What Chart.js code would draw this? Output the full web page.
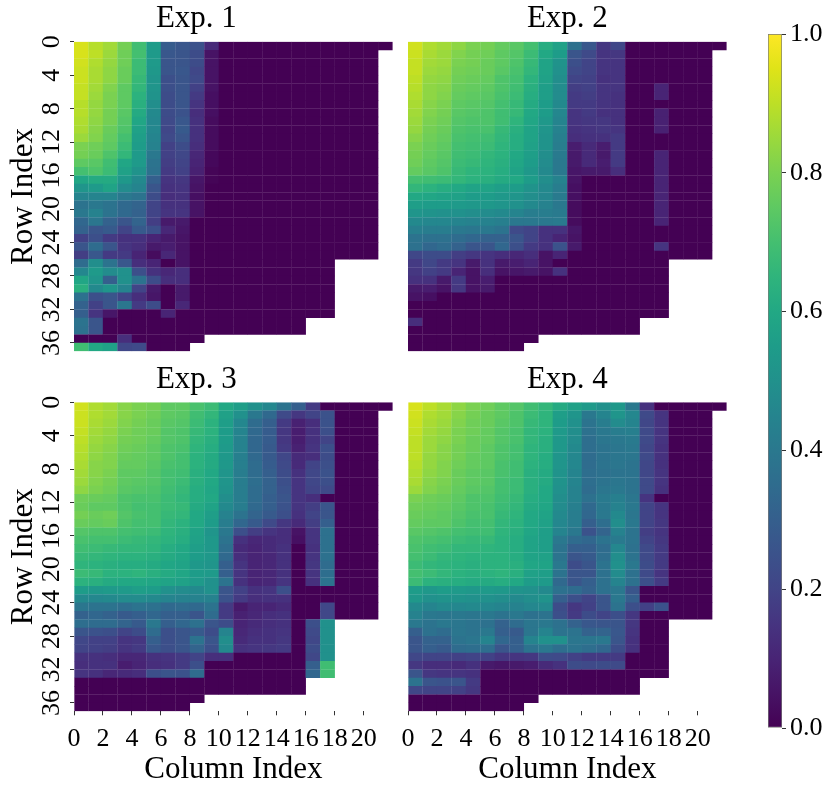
<!DOCTYPE html>
<html>
<head>
<meta charset="utf-8">
<script src="https://cdn.jsdelivr.net/npm/chart.js@4.4.3/dist/chart.umd.min.js"></script>
<style>
  body { margin: 0; background: #fff; }
  #wrap { position: relative; width: 831px; height: 795px; overflow: hidden; }
  canvas { position: absolute; }
</style>
</head>
<body>
<div id="wrap">
  <canvas id="p1" width="400" height="360" style="left:0;top:0"></canvas>
  <canvas id="p2" width="334" height="360" style="left:400px;top:0"></canvas>
  <canvas id="p3" width="400" height="434" style="left:0;top:361px"></canvas>
  <canvas id="p4" width="334" height="434" style="left:400px;top:361px"></canvas>
  <canvas id="cb" width="97" height="795" style="left:734px;top:0"></canvas>
</div>
<script>
// heatmap values in percent, one array per row (row length = visible columns)
const colTicks = [0, 2, 4, 6, 8, 10, 12, 14, 16, 18, 20];
const rowTicks = [0, 4, 8, 12, 16, 20, 24, 28, 32, 36];
const cbTicks = [0, 0.2, 0.4, 0.6, 0.8, 1.0];
const titles = ['Exp. 1', 'Exp. 2', 'Exp. 3', 'Exp. 4'];

const exp1 = [
  [94,89,86,79,69,55,29,27,25,12,0,0,0,0,0,0,0,0,0,0,0,0],
  [94,90,85,78,70,54,27,26,23,5,0,0,0,0,0,0,0,0,0,0,0],
  [93,88,84,78,68,54,26,26,23,5,0,0,0,0,0,0,0,0,0,0,0],
  [92,87,83,77,68,53,26,27,21,5,0,0,0,0,0,0,0,0,0,0,0],
  [92,87,83,77,67,52,24,26,22,5,0,0,0,0,0,0,0,0,0,0,0],
  [91,86,81,75,66,52,24,26,19,5,0,0,0,0,0,0,0,0,0,0,0],
  [91,85,80,75,64,51,23,26,17,4,0,0,0,0,0,0,0,0,0,0,0],
  [89,84,80,75,63,49,23,26,15,4,0,0,0,0,0,0,0,0,0,0,0],
  [89,84,79,74,61,47,23,25,13,4,0,0,0,0,0,0,0,0,0,0,0],
  [88,83,79,73,59,46,22,27,14,3,0,0,0,0,0,0,0,0,0,0,0],
  [87,82,77,72,57,46,21,28,14,3,0,0,0,0,0,0,0,0,0,0,0],
  [85,81,76,70,56,45,22,26,14,3,0,0,0,0,0,0,0,0,0,0,0],
  [80,78,75,68,55,44,19,23,13,3,0,0,0,0,0,0,0,0,0,0,0],
  [79,77,72,66,54,40,19,21,11,2,0,0,0,0,0,0,0,0,0,0,0],
  [75,74,69,59,54,38,18,20,10,2,0,0,0,0,0,0,0,0,0,0,0],
  [70,72,68,57,51,37,17,19,9,1,0,0,0,0,0,0,0,0,0,0,0],
  [59,61,61,53,47,30,15,16,6,1,0,0,0,0,0,0,0,0,0,0,0],
  [52,54,58,48,45,26,14,15,5,0,0,0,0,0,0,0,0,0,0,0,0],
  [45,45,45,40,38,23,13,14,4,0,0,0,0,0,0,0,0,0,0,0,0],
  [38,40,38,34,32,20,14,14,5,0,0,0,0,0,0,0,0,0,0,0,0],
  [40,44,38,34,31,20,15,15,5,0,0,0,0,0,0,0,0,0,0,0,0],
  [33,39,31,26,32,18,7,7,0,0,0,0,0,0,0,0,0,0,0,0,0],
  [31,26,28,20,28,24,11,6,0,0,0,0,0,0,0,0,0,0,0,0,0],
  [19,24,17,14,14,10,7,5,0,0,0,0,0,0,0,0,0,0,0,0,0],
  [26,35,26,15,13,7,8,5,0,0,0,0,0,0,0,0,0,0,0,0,0],
  [18,27,17,17,10,3,11,5,0,0,0,0,0,0,0,0,0,0,0,0,0],
  [35,49,38,27,13,10,0,5,0,0,0,0,0,0,0,0,0,0],
  [46,54,48,50,24,14,11,13,0,0,0,0,0,0,0,0,0,0],
  [59,52,30,50,38,23,13,13,0,0,0,0,0,0,0,0,0,0],
  [63,47,52,45,20,7,0,7,0,0,0,0,0,0,0,0,0,0],
  [37,24,26,20,13,6,0,7,0,0,0,0,0,0,0,0,0,0],
  [31,19,26,39,17,23,0,11,0,0,0,0,0,0,0,0,0,0],
  [30,15,6,0,0,0,10,0,0,0,0,0,0,0,0,0,0,0],
  [38,26,0,0,0,0,0,0,0,0,0,0,0,0,0,0],
  [37,26,0,0,0,0,0,0,0,0,0,0,0,0,0,0],
  [0,0,0,13,0,0,0,0,0],
  [69,60,57,21,22,0,0,0]
];

const exp2 = [
  [93,88,86,83,80,79,76,74,70,62,57,37,27,16,21,0,0,0,0,0,0,0],
  [92,87,85,81,79,78,75,73,68,60,55,26,22,15,16,0,0,0,0,0,0],
  [91,86,85,80,79,77,75,72,67,58,51,24,20,15,15,0,0,0,0,0,0],
  [91,85,84,79,78,77,74,71,66,58,50,22,20,15,15,0,0,0,0,0,0],
  [90,84,83,78,77,76,72,70,64,57,49,20,19,14,15,0,0,0,0,0,0],
  [89,83,82,77,76,75,72,69,63,56,48,18,19,15,15,0,0,10,0,0,0],
  [88,83,81,76,75,74,71,68,62,56,48,17,18,15,14,0,0,10,0,0,0],
  [87,82,80,75,74,73,70,67,61,55,47,17,17,15,14,0,0,0,0,0,0],
  [86,81,79,74,73,72,69,67,60,55,46,15,17,14,14,0,0,9,0,0,0],
  [85,80,78,73,72,72,69,65,59,53,45,15,16,16,14,0,0,9,0,0,0],
  [84,79,77,72,71,71,67,63,58,52,44,14,15,16,15,0,0,9,0,0,0],
  [82,78,76,71,70,69,66,62,58,51,43,13,14,14,17,0,0,0,0,0,0],
  [80,77,75,70,69,68,65,62,57,51,42,8,12,8,17,0,0,0,0,0,0],
  [79,76,74,69,68,66,64,60,56,49,41,7,12,7,17,0,0,10,0,0,0],
  [78,75,73,68,67,65,63,59,55,48,40,7,12,8,17,0,0,10,0,0,0],
  [76,74,72,67,65,64,62,58,53,47,40,6,7,7,13,0,0,10,0,0,0],
  [70,69,68,66,64,63,61,60,55,49,44,5,0,0,0,0,0,10,0,0,0],
  [66,64,62,60,58,58,56,55,51,47,42,4,0,0,0,0,0,10,0,0,0],
  [60,59,58,57,55,55,53,52,49,46,41,4,0,0,0,0,0,10,0,0,0],
  [56,55,55,54,53,53,52,50,47,44,40,3,0,0,0,0,0,10,0,0,0],
  [52,51,50,50,49,48,47,45,42,42,41,3,0,0,0,0,0,10,0,0,0],
  [47,46,46,45,44,44,43,40,40,40,41,3,0,0,0,0,0,10,0,0,0],
  [43,42,42,40,39,40,38,22,20,14,14,6,0,0,0,0,0,0,0,0,0],
  [38,37,37,35,33,31,31,26,20,14,10,5,0,0,0,0,0,0,0,0,0],
  [37,33,35,31,26,26,33,24,17,14,25,7,0,0,0,0,0,15,0,0,0],
  [21,23,23,18,16,15,13,11,13,5,10,0,0,0,0,0,0,0,0,0,0],
  [17,21,17,15,7,14,7,8,10,5,0,0,0,0,0,0,0,0],
  [16,19,17,10,5,13,5,6,7,5,14,0,0,0,0,0,0,0],
  [14,14,7,17,5,8,0,0,0,0,0,0,0,0,0,0,0,0],
  [7,8,5,16,5,7,0,0,0,0,0,0,0,0,0,0,0,0],
  [5,4,0,0,0,0,0,0,0,0,0,0,0,0,0,0,0,0],
  [0,0,0,0,0,0,0,0,0,0,0,0,0,0,0,0,0,0],
  [0,0,0,0,0,0,0,0,0,0,0,0,0,0,0,0,0,0],
  [13,0,0,0,0,0,0,0,0,0,0,0,0,0,0,0],
  [0,0,0,0,0,0,0,0,0,0,0,0,0,0,0,0],
  [0,0,0,0,0,0,0,0,0],
  [0,0,0,0,0,0,0,0]
];

const exp3 = [
  [93,88,86,82,80,79,75,75,71,68,60,56,50,46,38,30,17,0,0,0,0,0],
  [92,88,86,82,80,78,75,74,69,66,57,50,40,34,22,16,20,25,0,0,0],
  [92,87,85,81,79,77,74,73,68,64,56,46,35,30,17,9,13,25,0,0,0],
  [91,86,84,80,78,77,73,72,67,64,55,45,34,29,16,8,14,24,0,0,0],
  [90,85,83,79,78,76,73,72,66,63,55,44,33,29,16,8,14,20,0,0,0],
  [89,84,82,78,77,75,72,71,65,62,54,44,33,28,17,9,15,24,0,0,0],
  [88,83,81,77,76,75,72,70,64,61,53,43,34,28,21,12,13,23,0,0,0],
  [87,82,81,76,76,74,71,70,64,61,53,43,35,29,22,12,20,24,0,0,0],
  [86,82,80,75,75,73,70,69,63,60,52,42,35,30,23,14,21,25,0,0,0],
  [85,81,79,75,74,73,70,68,63,60,52,42,36,31,24,15,21,24,0,0,0],
  [83,80,78,74,73,72,69,67,62,59,51,42,35,31,25,15,20,22,0,0,0],
  [78,77,76,72,71,71,68,66,62,60,49,42,35,30,26,15,13,0,0,0,0],
  [77,75,75,72,70,70,68,67,61,58,47,42,34,30,25,15,18,26,0,0,0],
  [79,77,78,73,71,70,67,66,60,56,44,38,32,28,24,14,20,26,0,0,0],
  [77,76,77,72,70,70,66,64,60,55,42,33,28,22,16,12,18,30,0,0,0],
  [73,72,72,70,69,68,65,63,58,52,40,24,18,15,13,5,15,37,0,0,0],
  [71,70,70,68,67,66,64,62,57,53,38,14,11,12,13,4,15,37,0,0,0],
  [69,68,67,66,66,65,62,60,56,53,36,12,10,12,14,0,14,37,0,0,0],
  [67,66,65,64,64,63,61,59,55,53,34,13,10,11,14,0,15,37,0,0,0],
  [65,64,63,62,62,61,59,58,53,52,30,15,10,11,14,0,16,35,0,0,0],
  [68,67,64,64,65,63,61,59,55,54,30,15,10,11,14,0,15,36,0,0,0],
  [64,63,61,60,60,59,58,57,54,50,38,14,10,11,15,0,14,38,0,0,0],
  [55,53,54,54,56,55,50,48,47,50,26,19,14,15,24,0,0,0,0,0,0],
  [47,46,47,48,48,47,45,44,44,44,25,17,13,14,14,0,0,0,0,0,0],
  [39,38,38,36,38,37,34,35,34,38,17,7,10,10,12,0,0,21,0,0,0],
  [31,33,31,28,30,33,30,30,26,35,17,9,11,13,14,0,0,21,0,0,0],
  [36,35,35,32,28,40,30,33,37,26,23,10,12,13,14,0,24,50],
  [26,25,24,20,23,35,24,26,28,23,45,11,13,14,15,0,22,50],
  [21,19,19,15,16,30,24,26,38,26,49,12,14,14,16,0,21,50],
  [20,19,18,15,17,27,24,26,32,24,47,14,15,16,17,0,23,50],
  [14,14,13,11,11,14,15,17,20,13,13,0,0,0,0,0,21,50],
  [13,14,14,8,10,13,14,17,24,0,0,0,0,0,0,0,30,69],
  [15,14,11,12,13,24,26,25,35,0,0,0,0,0,0,0,33,69],
  [0,0,0,0,0,0,0,0,0,0,0,0,0,0,0,0],
  [0,0,0,0,0,0,0,0,0,0,0,0,0,0,0,0],
  [0,0,0,0,0,0,0,0,0],
  [0,0,0,0,0,0,0,0]
];

const exp4 = [
  [94,90,87,83,80,78,75,73,69,66,61,57,54,50,53,40,14,0,0,0,0,0],
  [93,88,86,82,79,77,75,72,68,65,56,52,40,45,52,46,22,15,0,0,0],
  [92,87,85,81,78,77,74,72,67,65,55,50,38,42,48,45,21,15,0,0,0],
  [91,86,84,80,78,76,73,71,66,64,54,49,37,40,42,43,22,15,0,0,0],
  [90,85,83,80,77,76,73,71,66,63,53,48,36,39,40,41,22,15,0,0,0],
  [90,85,82,79,77,75,72,70,65,63,53,47,36,38,39,40,21,14,0,0,0],
  [90,84,82,79,76,75,72,70,65,62,52,46,35,38,39,39,22,14,0,0,0],
  [89,84,81,78,76,75,71,69,64,62,52,46,35,38,39,38,21,14,0,0,0],
  [88,83,81,77,75,74,71,69,63,61,51,45,36,37,38,38,21,15,0,0,0],
  [87,82,80,77,75,74,70,68,63,61,51,45,36,38,39,38,22,15,0,0,0],
  [85,81,79,76,74,73,70,68,63,60,50,44,35,39,40,38,22,14,0,0,0],
  [80,78,77,75,72,72,69,67,62,60,49,44,37,41,43,39,15,0,0,0,0],
  [78,77,76,74,72,71,68,66,61,59,48,43,34,40,44,40,20,15,0,0,0],
  [77,76,75,73,71,71,67,65,60,58,47,42,33,40,47,39,20,15,0,0,0],
  [76,75,75,72,70,70,66,64,60,57,46,42,30,36,49,40,20,16,0,0,0],
  [74,73,72,70,69,69,65,63,59,56,45,40,25,32,44,38,18,15,0,0,0],
  [72,71,70,68,67,67,64,62,58,56,40,35,33,38,41,38,20,16,0,0,0],
  [71,69,68,66,66,65,64,62,58,56,38,30,30,35,46,37,22,17,0,0,0],
  [70,68,66,65,64,64,64,62,58,57,38,26,28,36,49,38,22,17,0,0,0],
  [68,66,65,64,63,64,64,63,59,58,40,23,26,38,50,40,23,17,0,0,0],
  [70,68,66,64,63,64,65,63,57,56,38,26,26,37,48,37,22,15,0,0,0],
  [68,64,63,62,61,61,62,60,55,54,34,26,30,37,45,37,24,17,0,0,0],
  [55,53,55,54,53,54,53,51,50,47,37,35,31,37,40,26,0,0,0,0,0],
  [53,50,51,51,50,50,49,47,49,51,30,24,20,26,40,30,0,0,0,0,0],
  [47,45,47,46,47,46,45,44,46,47,23,16,19,26,38,24,19,25,0,0,0],
  [44,40,39,40,39,40,38,40,37,38,24,17,23,20,24,16,0,0,0,0,0],
  [40,38,40,39,38,37,31,35,39,40,37,31,27,26,26,16,0,0],
  [30,37,35,39,38,40,30,28,39,45,38,38,31,32,27,15,0,0],
  [26,31,31,38,39,45,33,30,45,50,50,39,39,40,26,14,0,0],
  [26,30,28,35,36,36,26,30,38,40,36,38,36,33,23,14,0,0],
  [21,20,20,19,20,19,16,15,16,23,22,19,17,17,17,0,0,0],
  [16,13,13,12,14,7,6,7,8,12,14,23,22,23,22,0,0,0],
  [26,16,15,15,14,0,0,0,0,0,0,0,0,0,0,0,0,0],
  [38,26,25,26,17,0,0,0,0,0,0,0,0,0,0,0],
  [21,20,20,19,16,0,0,0,0,0,0,0,0,0,0,0],
  [0,0,0,0,0,0,0,0,0],
  [0,0,0,0,0,0,0,0]
];

// viridis colour stops every 0.05
const VIRIDIS = ['#440154','#471365','#482475','#463480','#414487','#3b528b','#355f8d','#2f6c8e','#2a788e','#25848e',
  '#21918c','#1e9c89','#22a884','#2fb47c','#44bf70','#5ec962','#7ad151','#9bd93c','#bddf26','#dfe318','#fde725'];
const hex = h => [1, 3, 5].map(i => parseInt(h.substr(i, 2), 16));
function viridis(t) {
  t = Math.max(0, Math.min(1, t));
  const p = t * 20, i = Math.min(19, Math.floor(p)), f = p - i;
  const a = hex(VIRIDIS[i]), b = hex(VIRIDIS[i + 1]);
  return 'rgb(' + a.map((v, k) => Math.round(v + (b[k] - v) * f)).join(',') + ')';
}

Chart.defaults.font.family = "'Liberation Serif', 'Times New Roman', serif";
Chart.defaults.color = '#000';

const tickGrid = { offset: false, drawOnChartArea: false, drawTicks: true, tickLength: 4, tickColor: '#333', tickWidth: 1 };

function panel(id, rows, title, showY, showX, pad, titlePad) {
  const cells = [];
  rows.forEach((row, r) => row.forEach((v, c) => cells.push({ x: [c, c + 1], y: r + 0.5, v: v / 100 })));
  const x = showX ? {
    type: 'linear', min: 0, max: 22, position: 'bottom', offset: false,
    afterBuildTicks: s => { s.ticks = colTicks.map(v => ({ value: v })); },
    afterFit: s => { s.height = 83.7; s.paddingLeft = 0; s.paddingRight = 0; },
    ticks: { autoSkip: false, maxRotation: 0, minRotation: 0, padding: 8.6, font: { size: 26 } },
    grid: tickGrid, border: { display: false },
    title: { display: true, text: 'Column Index', font: { size: 31, lineHeight: 1 }, padding: { top: 0, bottom: 9.4 } }
  } : { type: 'linear', min: 0, max: 22, offset: false, display: false };
  const y = showY ? {
    type: 'linear', min: 0, max: 37, reverse: true, offset: false,
    afterBuildTicks: s => { s.ticks = rowTicks.map(v => ({ value: v })); },
    afterFit: s => { s.width = 74; s.paddingTop = 0; s.paddingBottom = 0; },
    ticks: { autoSkip: false, minRotation: 90, maxRotation: 90, crossAlign: 'center', padding: 4.5, font: { size: 26 } },
    grid: tickGrid, border: { display: false },
    title: { display: true, text: 'Row Index', font: { size: 31, lineHeight: 1 }, padding: { top: 8, bottom: 0 } }
  } : { type: 'linear', min: 0, max: 37, reverse: true, offset: false, display: false };

  new Chart(document.getElementById(id), {
    type: 'bar',
    data: {
      datasets: [{
        data: cells,
        backgroundColor: ctx => viridis(ctx.raw ? ctx.raw.v : 0),
        borderWidth: 0, inflateAmount: 0.15, barPercentage: 1, categoryPercentage: 1
      }]
    },
    options: {
      indexAxis: 'y', responsive: false, animation: false, events: [],
      layout: { padding: pad },
      plugins: {
        legend: { display: false }, tooltip: { enabled: false },
        title: { display: true, text: title, color: '#000', font: { size: 31, weight: 'normal', lineHeight: 1 }, padding: titlePad }
      },
      scales: { x, y }
    }
  });
}

panel('p1', exp1, titles[0], true, false, { left: 0, top: 0, right: 7.3, bottom: 8.7 }, { top: 3.3, bottom: 7.4 });
panel('p2', exp2, titles[1], false, false, { left: 8, top: 0, right: 7.3, bottom: 8.7 }, { top: 3.3, bottom: 7.4 });
panel('p3', exp3, titles[2], true, true, { left: 0, top: 0, right: 7.3, bottom: 0 }, { top: 3.3, bottom: 7.0 });
panel('p4', exp4, titles[3], false, true, { left: 8, top: 0, right: 7.3, bottom: 0 }, { top: 3.3, bottom: 7.0 });

// colour bar
new Chart(document.getElementById('cb'), {
  type: 'bar',
  data: {
    labels: [''],
    datasets: [{
      data: [[0, 1]],
      backgroundColor: ctx => {
        const ca = ctx.chart.chartArea;
        if (!ca) return VIRIDIS[0];
        const g = ctx.chart.ctx.createLinearGradient(0, ca.bottom, 0, ca.top);
        VIRIDIS.forEach((c, i) => g.addColorStop(i / 20, c));
        return g;
      },
      borderColor: '#7a7a7a', borderWidth: 1, borderSkipped: false,
      barPercentage: 1, categoryPercentage: 1
    }]
  },
  options: {
    responsive: false, animation: false, events: [],
    layout: { padding: { left: 34, top: 34, right: 0, bottom: 67 } },
    plugins: { legend: { display: false }, tooltip: { enabled: false } },
    scales: {
      x: { display: false },
      y: {
        type: 'linear', position: 'right', min: 0, max: 1,
        afterBuildTicks: s => { s.ticks = cbTicks.map(v => ({ value: v })); },
        afterFit: s => { s.width = 49; s.paddingTop = 0; s.paddingBottom = 0; },
        ticks: { padding: 4, font: { size: 26 }, callback: v => v.toFixed(1) },
        grid: tickGrid, border: { display: false }
      }
    }
  }
});
</script>
</body>
</html>
